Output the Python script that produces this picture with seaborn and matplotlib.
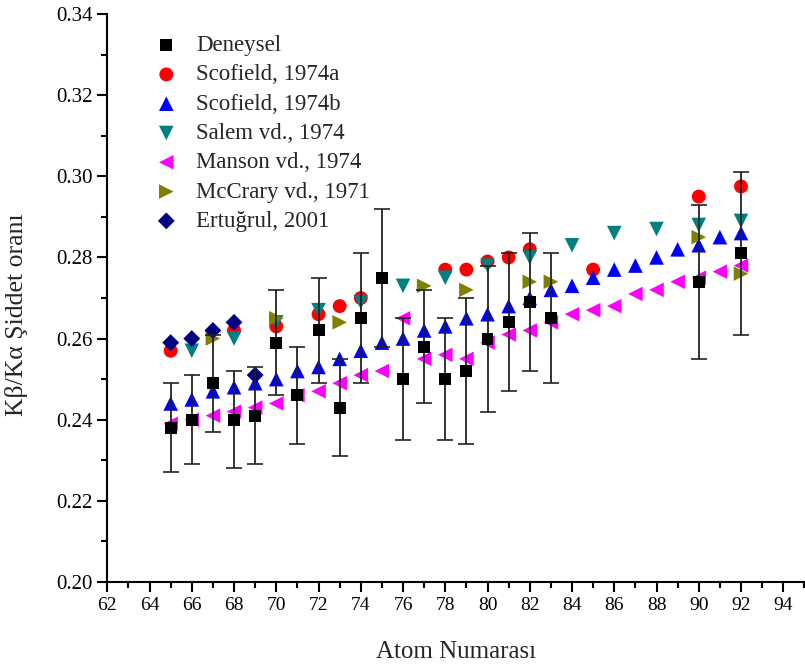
import numpy as np
import pandas as pd
import matplotlib
matplotlib.use("Agg")
import matplotlib.pyplot as plt
import seaborn as sns
from matplotlib.ticker import MultipleLocator, FormatStrFormatter

# ---------------- data ----------------
den_z = [65, 66, 67, 68, 69, 70, 71, 72, 73, 74, 75, 76, 77, 78, 79, 80, 81, 82, 83, 90, 92]
den_v = [0.238, 0.240, 0.249, 0.240, 0.241, 0.259, 0.246, 0.262, 0.243, 0.265, 0.275,
         0.250, 0.258, 0.250, 0.252, 0.260, 0.264, 0.269, 0.265, 0.274, 0.281]
den_e = [0.011, 0.011, 0.012, 0.012, 0.012, 0.013, 0.012, 0.013, 0.012, 0.016, 0.017,
         0.015, 0.014, 0.015, 0.018, 0.018, 0.017, 0.017, 0.016, 0.019, 0.020]

sca_z = [65, 68, 70, 72, 73, 74, 78, 79, 80, 81, 82, 85, 90, 92]
sca_v = [0.257, 0.262, 0.263, 0.266, 0.268, 0.270, 0.277, 0.277, 0.279, 0.280, 0.282,
         0.277, 0.295, 0.2975]

scb_z = list(range(65, 93))
scb_v = [0.244, 0.245, 0.247, 0.248, 0.249, 0.250, 0.252, 0.253, 0.255, 0.257, 0.259,
         0.260, 0.262, 0.263, 0.265, 0.266, 0.268, 0.270, 0.272, 0.273, 0.275, 0.277,
         0.278, 0.280, 0.282, 0.283, 0.285, 0.286]

sal_z = [66, 68, 70, 72, 74, 76, 78, 80, 82, 84, 86, 88, 90, 92]
sal_v = [0.257, 0.260, 0.264, 0.267, 0.269, 0.273, 0.275, 0.278, 0.280, 0.283, 0.286,
         0.287, 0.288, 0.289]

man_z = list(range(65, 93))
man_v = [0.239, 0.240, 0.241, 0.242, 0.243, 0.244, 0.246, 0.247, 0.249, 0.251, 0.252,
         0.265, 0.255, 0.256, 0.255, 0.259, 0.261, 0.262, 0.264, 0.266, 0.267, 0.268,
         0.271, 0.272, 0.274, 0.275, 0.2765, 0.278]

mcc_z = [67, 70, 73, 77, 79, 82, 83, 90, 92]
mcc_v = [0.260, 0.265, 0.264, 0.273, 0.272, 0.274, 0.274, 0.285, 0.276]

ert_z = [65, 66, 67, 68, 69]
ert_v = [0.259, 0.260, 0.262, 0.264, 0.251]

labels = ["Deneysel", "Scofield, 1974a", "Scofield, 1974b", "Salem vd., 1974",
          "Manson vd., 1974", "McCrary vd., 1971", "Ertuğrul, 2001"]

# ---------------- style ----------------
sns.set_style("ticks")
plt.rcParams["font.family"] = ["Liberation Serif", "DejaVu Serif"]

fig = plt.figure(figsize=(8.05, 6.70), dpi=100)
ax = fig.add_axes([107.3 / 805, 88 / 670, 1 - 107.3 / 805, (582 - 14) / 670])

series = [
    (den_z, den_v, "s", "#000000", 8.6, 5),
    (sca_z, sca_v, "o", "#FF0000", 10.0, 3),
    (scb_z, scb_v, "^", "#0000FF", 10.5, 3),
    (sal_z, sal_v, "v", "#008080", 10.5, 3),
    (man_z, man_v, "<", "#FF00FF", 10.5, 3),
    (mcc_z, mcc_v, ">", "#808000", 10.5, 3),
    (ert_z, ert_v, "D", "#000080", 8.6, 3),
]

ax.errorbar(den_z, den_v, yerr=den_e, fmt="none", ecolor="#222222",
            elinewidth=1.3, capsize=5.5, capthick=1.2, zorder=4)

handles = []
for (z, v, m, c, ms, zo), lab in zip(series, labels):
    df = pd.DataFrame({"z": z, "v": v})
    sns.scatterplot(data=df, x="z", y="v", marker=m, color=c, s=ms ** 2,
                    edgecolor="none", linewidth=0, ax=ax, zorder=zo, label=lab,
                    legend=False)
    h = ax.scatter([], [], marker=m, color=c, s=ms ** 2, edgecolor="none")
    handles.append(h)

ax.set_xlim(62, 95.03)
ax.set_ylim(0.20, 0.34)
ax.xaxis.set_major_locator(MultipleLocator(2))
ax.xaxis.set_minor_locator(MultipleLocator(1))
ax.yaxis.set_major_locator(MultipleLocator(0.02))
ax.yaxis.set_minor_locator(MultipleLocator(0.01))
ax.yaxis.set_major_formatter(FormatStrFormatter("%.2f"))

sns.despine(ax=ax)
for sp in ["left", "bottom"]:
    ax.spines[sp].set_linewidth(1.5)
    ax.spines[sp].set_color("black")
ax.tick_params(which="major", direction="out", length=7.5, width=1.5,
               colors="black", pad=3)
ax.tick_params(which="minor", direction="out", length=4.5, width=1.5, colors="black")
ax.tick_params(axis="y", labelsize=15)
ax.tick_params(axis="x", labelsize=14)

ax.set_xlabel("Atom Numarası", fontsize=18, labelpad=20)
ax.set_ylabel("Kβ/Kα Şiddet oranı", fontsize=18.5)
ax.yaxis.set_label_coords(-0.113, 0.47)

leg = ax.legend(handles, labels, loc="upper left", bbox_to_anchor=(0.055, 0.979),
                frameon=False, fontsize=16.5, handletextpad=0.8, labelspacing=0.36,
                handlelength=1.0, borderaxespad=0)

fig.savefig("out.png", dpi=100)
